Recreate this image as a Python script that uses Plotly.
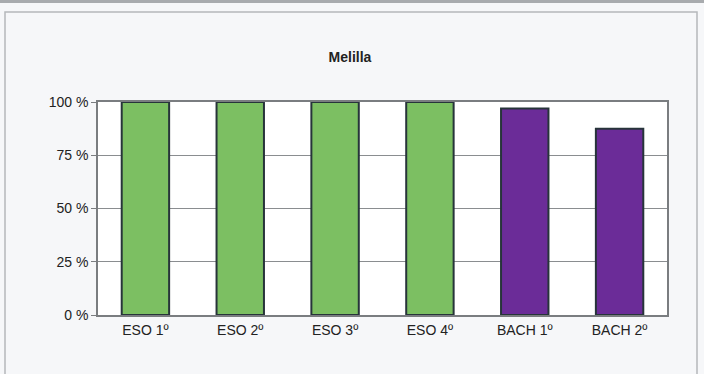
import plotly.graph_objects as go

categories = ["ESO 1º", "ESO 2º", "ESO 3º", "ESO 4º", "BACH 1º", "BACH 2º"]
values = [100, 100, 100, 100, 97, 87.5]
bar_colors = ["#7cbf62", "#7cbf62", "#7cbf62", "#7cbf62", "#6b2c98", "#6b2c98"]
y_ticks = [0, 25, 50, 75, 100]
y_tick_labels = ["0 %", "25 %", "50 %", "75 %", "100 %"]
title_text = "Melilla"

W, H = 704, 374
L, R, T, B = 98, 37, 102, 59
pw, ph = W - L - R, H - T - B

def px(x):
    return (x - L) / pw

def py(y):
    return (H - B - y) / ph

fig = go.Figure(go.Bar(
    x=categories, y=values,
    marker=dict(color=bar_colors, line=dict(color="#27343a", width=2)),
    width=0.5,
))

shapes = [
    dict(type="rect", xref="paper", yref="paper",
         x0=px(5), x1=px(697), y0=py(380), y1=py(12),
         line=dict(color="#b5b8bb", width=1.5), fillcolor="rgba(0,0,0,0)", layer="below"),
    dict(type="line", xref="paper", yref="paper",
         x0=px(0), x1=px(704), y0=py(1.5), y1=py(1.5),
         line=dict(color="#a8abae", width=3)),
]

font_family = "Liberation Sans, Arial"

fig.update_layout(
    width=W, height=H,
    margin=dict(l=L, r=R, t=T, b=B),
    paper_bgcolor="#f6f7f9",
    plot_bgcolor="#ffffff",
    showlegend=False,
    shapes=shapes,
    title=dict(text="<b>" + title_text + "</b>", x=350 / W, xanchor="center",
               y=1 - 57 / H, yanchor="middle",
               font=dict(family=font_family, size=14, color="#222")),
    xaxis=dict(showgrid=False, showline=True, linecolor="#7a7d80", linewidth=1.5,
               mirror=True, ticks="", ticklabelstandoff=1,
               tickfont=dict(family=font_family, size=14, color="#222")),
    yaxis=dict(range=[0, 100], tickvals=y_ticks, ticktext=y_tick_labels,
               showgrid=True, gridcolor="#8a8d90", gridwidth=1,
               showline=True, linecolor="#7a7d80", linewidth=1.5, mirror=True,
               ticks="outside", ticklen=5, tickcolor="#7a7d80",
               tickfont=dict(family=font_family, size=14, color="#222"),
               zeroline=False),
)

fig.write_html("out.html", config={"displayModeBar": False},
               post_script="document.body.style.margin='0';document.body.style.overflow='hidden';")
